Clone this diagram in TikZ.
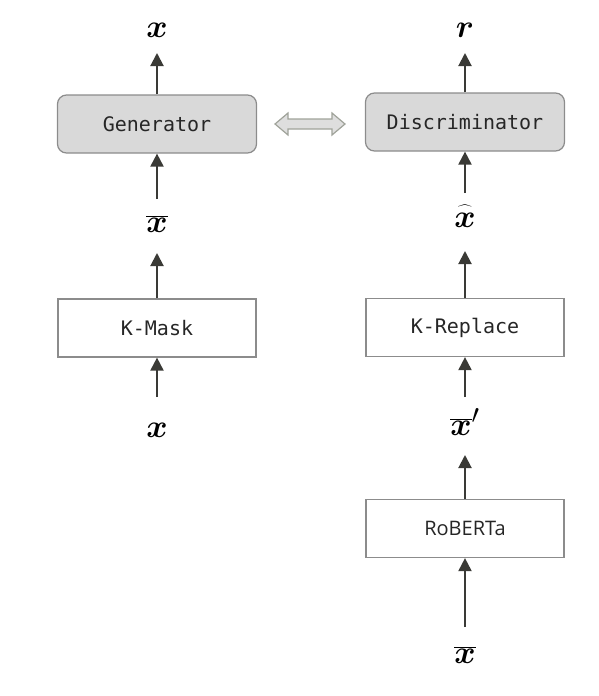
\documentclass[tikz,border=0pt]{standalone}
\usepackage{graphicx}
\usepackage{fontspec}
\usepackage{bm}
\usetikzlibrary{arrows.meta}
\newfontfamily\monof{DejaVu Sans Mono}
\newfontfamily\sansf{Open Sans}
\newcommand{\biglbl}[1]{\scalebox{1.3}{\Huge $#1$}}
\newcommand{\myhatx}{\scalebox{1.3}{\Huge\ooalign{\hfil$\bm{x}$\hfil\cr\hidewidth\raisebox{3pt}{\scalebox{0.72}[1]{$\widehat{\phantom{\bm{x}\bm{x}}}$}}\hidewidth\cr}}}
\definecolor{arrowc}{HTML}{3A3A36}
\definecolor{boxline}{HTML}{8C8C8C}
\definecolor{boxfill}{HTML}{D9D9D9}
\definecolor{dafill}{HTML}{DEDEDE}
\definecolor{daline}{HTML}{A0A39A}
\definecolor{txt}{HTML}{262626}
\tikzset{
  x=1pt,y=1pt,
  gbox/.style={draw=boxline,line width=1.2pt,fill=boxfill,rounded corners=9pt,minimum width=199pt,minimum height=58pt,inner sep=0pt,font=\monof\fontsize{20}{22}\selectfont,text=txt},
  wbox/.style={draw=boxline,line width=1.2pt,fill=white,minimum width=198pt,minimum height=58pt,inner sep=0pt,font=\monof\fontsize{20}{22}\selectfont,text=txt},
  lbl/.style={inner sep=0pt,text=black},
  arr/.style={draw=arrowc,line width=2pt,-{Triangle[length=13pt,width=13pt]},arrowc}
}
\begin{document}
\begin{tikzpicture}
\useasboundingbox (0,0) rectangle (598,-696);
% left column
\node[gbox] (gen) at (157,-124) {Generator};
\node[wbox] (kmask) at (157,-328) {K-Mask};
\node[lbl] (xtop) at (157,-30) {\biglbl{\bm{x}}};
\node[lbl] (xbarL) at (157,-224) {\biglbl{\overline{\bm{x}}}};
\node[lbl] (xin) at (157,-430) {\biglbl{\bm{x}}};
\coordinate (t1) at (157,-53);
\coordinate (s1) at (157,-199);
\coordinate (t2) at (157,-253);
\coordinate (s2) at (157,-397);
\draw[arr] (gen.north) -- (t1);
\draw[arr] (s1) -- (gen.south);
\draw[arr] (kmask.north) -- (t2);
\draw[arr] (s2) -- (kmask.south);
% right column
\node[gbox] (disc) at (465,-122) {Discriminator};
\node[wbox] (krep) at (465,-327.5) {K-Replace};
\node[wbox,font=\sansf\fontsize{20}{22}\selectfont] (rob) at (465,-528.5) {RoBERTa};
\node[lbl] (rtop) at (465,-30) {\biglbl{\bm{r}}};
\node[lbl] (xhat) at (465,-220) {\myhatx};
\node[lbl] (xbarp) at (465,-422) {\biglbl{\overline{\bm{x}}'}};
\node[lbl] (xbarR) at (465,-655) {\biglbl{\overline{\bm{x}}}};
\coordinate (t3) at (465,-53);
\coordinate (s3) at (465,-193);
\coordinate (t4) at (465,-251);
\coordinate (s4) at (465,-397);
\coordinate (t5) at (465,-455);
\coordinate (s5) at (465,-627);
\draw[arr] (disc.north) -- (t3);
\draw[arr] (s3) -- (disc.south);
\draw[arr] (krep.north) -- (t4);
\draw[arr] (s4) -- (krep.south);
\draw[arr] (rob.north) -- (t5);
\draw[arr] (s5) -- (rob.south);
% double arrow
\draw[draw=daline,fill=dafill,line width=1.2pt,line join=miter]
 (275,-124) -- (288,-113) -- (288,-119) -- (332,-119) -- (332,-113) -- (345,-124)
 -- (332,-135) -- (332,-129) -- (288,-129) -- (288,-135) -- cycle;
\end{tikzpicture}
\end{document}
